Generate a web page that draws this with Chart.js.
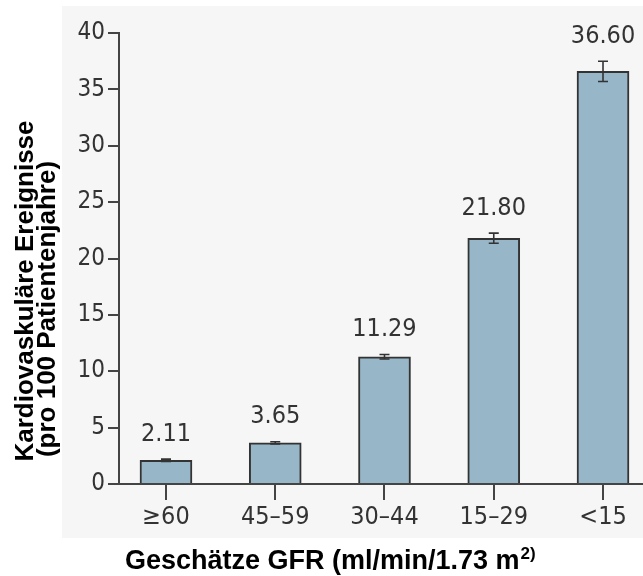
<!DOCTYPE html>
<html>
<head>
<meta charset="utf-8">
<script src="https://cdn.jsdelivr.net/npm/chart.js@4.4.1/dist/chart.umd.min.js"></script>
<style>
  body { margin: 0; background: #fff; }
  canvas { display: block; }
</style>
</head>
<body>
<canvas id="chart" width="643" height="576"></canvas>
<script>
  // data
  categories = ['\u226560', '45\u201359', '30\u201344', '15\u201329', '<15']
  values = [2.11, 3.65, 11.29, 21.80, 36.60]
  errors = [0.1, 0.1, 0.2, 0.45, 0.9]
  yTicks = [0, 5, 10, 15, 20, 25, 30, 35, 40]

  yTitle = ['Kardiovaskul\u00e4re Ereignisse', '(pro 100 Patientenjahre)']
  xTitle = 'Gesch\u00e4tze GFR (ml/min/1.73 m'
  xTitleSup = '2)'

  const tickFont = '"DejaVu Sans Condensed", "Open Sans", sans-serif'
  const titleFont = '"Liberation Sans", Arial, sans-serif'

  // grey panel behind plot and tick labels
  const panel = {
    id: 'panel',
    beforeDraw: (chart) => {
      const { ctx } = chart;
      ctx.save();
      ctx.fillStyle = '#f6f6f6';
      ctx.fillRect(62, 6, chart.width - 62, 532);
      ctx.restore();
    }
  };

  // error bars + value labels
  const errorBars = {
    id: 'errorBars',
    afterDatasetsDraw: (chart) => {
      const { ctx, scales: { x, y } } = chart;
      ctx.save();
      ctx.strokeStyle = '#333';
      ctx.lineWidth = 1.6;
      values.forEach((v, i) => {
        const px = x.getPixelForValue(i);
        const top = y.getPixelForValue(v + errors[i]);
        const bot = y.getPixelForValue(v - errors[i]);
        ctx.beginPath();
        ctx.moveTo(px, top); ctx.lineTo(px, bot);
        ctx.moveTo(px - 5, top); ctx.lineTo(px + 5, top);
        ctx.moveTo(px - 5, bot); ctx.lineTo(px + 5, bot);
        ctx.stroke();

        ctx.fillStyle = '#333';
        ctx.font = '25px ' + tickFont;
        ctx.textAlign = 'center';
        ctx.textBaseline = 'middle';
        ctx.fillText(v.toFixed(2), px, top - 25);
      });
      ctx.restore();
    }
  };

  // axis titles (two-line rotated y title, superscript in x title)
  const axisTitles = {
    id: 'axisTitles',
    afterDraw: (chart) => {
      const { ctx } = chart;
      ctx.save();
      ctx.fillStyle = '#000';
      ctx.font = 'bold 26px ' + titleFont;
      ctx.textAlign = 'center';
      ctx.textBaseline = 'alphabetic';

      ctx.save();
      ctx.translate(33, 291);
      ctx.rotate(-Math.PI / 2);
      ctx.fillText(yTitle[0], 0, 0);
      ctx.restore();

      ctx.save();
      ctx.translate(55, 309);
      ctx.rotate(-Math.PI / 2);
      ctx.fillText(yTitle[1], 0, 0);
      ctx.restore();

      ctx.textAlign = 'left';
      ctx.font = 'bold 27px ' + titleFont;
      ctx.fillText(xTitle, 125, 569);
      const w = ctx.measureText(xTitle).width;
      ctx.font = 'bold 17px ' + titleFont;
      ctx.fillText(xTitleSup, 125 + w + 1, 559);
      ctx.restore();
    }
  };

  var chart = new Chart('chart', {
    type: 'bar',
    data: {
      datasets: [{
        data: values.map((v, i) => ({ x: i, y: v })),
        backgroundColor: '#97b7c9',
        borderColor: '#333',
        borderWidth: 2,
        borderSkipped: 'bottom',
        barThickness: 52
      }]
    },
    options: {
      responsive: false,
      animation: false,
      layout: { padding: { top: 33, right: 0, left: 0, bottom: 0 } },
      plugins: {
        legend: { display: false },
        tooltip: { enabled: false },
        title: { display: false }
      },
      scales: {
        x: {
          type: 'linear',
          offset: false,
          min: -0.43,
          max: 4.366,
          afterBuildTicks: (scale) => {
            scale.ticks = categories.map((c, i) => ({ value: i }));
          },
          afterFit: (scale) => { scale.height = 92; },
          border: { display: true, color: '#444', width: 2 },
          grid: { offset: false, drawOnChartArea: false, drawTicks: true, tickLength: 16, color: '#444', lineWidth: 2 },
          ticks: {
            callback: (v) => categories[v],
            font: { family: tickFont, size: 25 },
            color: '#333',
            padding: 2,
            maxRotation: 0,
            autoSkip: false
          }
        },
        y: {
          min: 0,
          max: 40,
          afterBuildTicks: (scale) => {
            scale.ticks = yTicks.map(v => ({ value: v }));
          },
          afterFit: (scale) => { scale.width = 119; },
          border: { display: true, color: '#444', width: 2 },
          grid: { drawOnChartArea: false, drawTicks: true, tickLength: 11, color: '#444', lineWidth: 2 },
          ticks: {
            font: { family: tickFont, size: 24 },
            color: '#333',
            padding: 3
          }
        }
      }
    },
    plugins: [panel, errorBars, axisTitles]
  });
</script>
</body>
</html>
